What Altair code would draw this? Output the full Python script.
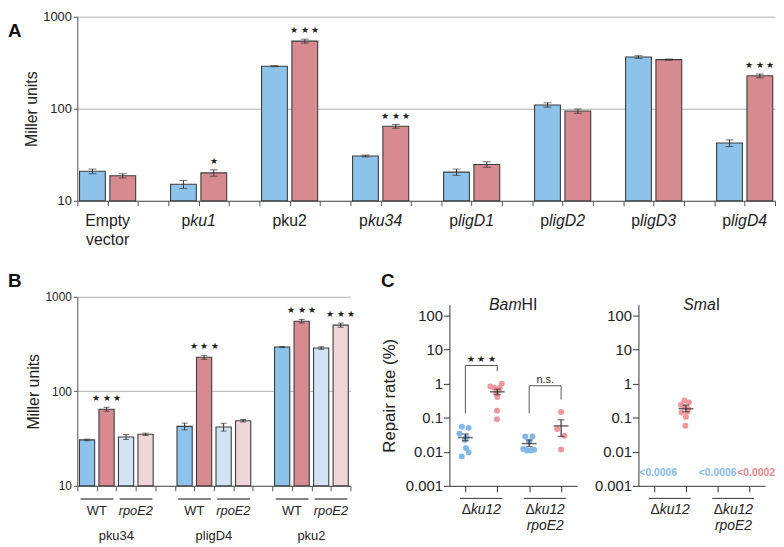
import altair as alt
import pandas as pd

FONT = "Liberation Sans"
INK = "#222222"
AXIS_A = "#555555"
AXIS_C = "#333333"
BLUE, RED, LBLUE, LPINK = "#8DC3EA", "#D88A91", "#D2E4F3", "#EDD5D8"
DOT_BLUE, DOT_RED = "#80B9E8", "#F0969C"
LIM_BLUE, LIM_RED = "#86BCEA", "#E5858C"
EDGE = "#3C3C3C"
ERR = "#333333"
STAR3 = "★ ★ ★"

# ---------------- Panel A data ----------------
a_labels = ["Empty\nvector", "p_ku1_", "pku2", "p_ku34_", "p_ligD1_", "p_ligD2_", "p_ligD3_", "p_ligD4_"]
a_blue = [20.9, 15.1, 290, 30.7, 20.5, 110, 365, 42.4]
a_blue_err = [1.2, 1.5, 4, 0.7, 1.6, 6, 12, 3.5]
a_red = [18.7, 20.1, 543, 64.5, 24.8, 94.4, 342, 228]
a_red_err = [1.0, 1.6, 27, 3, 1.7, 5, 5, 11]
a_no_stars = ["", "", "", "", "", "", "", ""]
a_red_stars = ["", "★", STAR3, STAR3, "", "", "", STAR3]

# ---------------- Panel B data ----------------
b_labels = ["pku34", "pligD4", "pku2"]
b_sub = ["WT", "_rpoE2_"]
b_wt_blue = [30.6, 42.6, 294]
b_wt_blue_err = [0.6, 3.5, 4]
b_wt_red = [64.7, 229, 552]
b_wt_red_err = [3, 11, 25]
b_rpo_blue = [32.9, 41.9, 287]
b_rpo_blue_err = [2, 4, 9]
b_rpo_red = [35.1, 48.8, 501]
b_rpo_red_err = [1, 1.5, 25]
b_no_stars = ["", "", ""]
b_wt_red_stars = [STAR3, STAR3, STAR3]
b_rpo_red_stars = ["", "", STAR3]

# ---------------- Panel C data ----------------
c_pair_labels = ["Δ_ku12_", "Δ_ku12_\n_rpoE2_"]
bam_blue_ku12 = [0.054, 0.050, 0.034, 0.026, 0.022, 0.0126, 0.0095, 0.0073]
bam_blue_ku12_dx = [-3.5, 3.3, -6, 1, -0.5, 0.7, 3.3, -3.7]
bam_red_ku12 = [0.99, 0.82, 0.75, 0.74, 0.62, 0.53, 0.40, 0.16, 0.089]
bam_red_ku12_dx = [4.6, -7, -3, 2.5, 1, -1, 0, -0.3, -0.3]
bam_blue_rpo = [0.028, 0.028, 0.020, 0.012, 0.0108, 0.0108, 0.0115]
bam_blue_rpo_dx = [-4, 3.3, 0, -6, -2.3, 1.7, 5]
bam_red_rpo = [0.146, 0.046, 0.0295, 0.0116]
bam_red_rpo_dx = [0, -4, 3.3, 0]
bam_mean = [0.026, 0.57, 0.0173, 0.057]
bam_sem_lo = [0.021, 0.47, 0.0141, 0.028]
bam_sem_hi = [0.033, 0.68, 0.022, 0.086]
sma_red_ku12 = [0.32, 0.28, 0.24, 0.21, 0.18, 0.15, 0.14, 0.105, 0.058]
sma_red_ku12_dx = [-1.5, 3, -5, -2.5, 2, 1.5, -4.5, 0, -0.5]
sma_mean = [0.182]
sma_sem_lo = [0.148]
sma_sem_hi = [0.23]
sma_limit_pos = [0, 2, 3]
sma_limit_dx = [4, 0, 7]
sma_limit_text = ["<0.0006", "<0.0006", "<0.0002"]
sma_limit_series = ["blue", "blue", "red"]
LIMIT_Y = 0.0023
br_x0 = [0, 2]
br_x1 = [1, 3]
br_top = [3.37, 0.86]
br_left = [0.133, 0.133]
br_right = [2.3, 0.34]
br_text = [STAR3, "n.s."]
br_text_size = [9, 11]
br_text_dy = [-7, -6]

# ---------------- helpers ----------------
WID = {' ': 278, '.': 278, '<': 584, '%': 889, '(': 333, ')': 333,
       'a': 556, 'b': 556, 'c': 500, 'd': 556, 'e': 556, 'g': 556, 'h': 556, 'i': 222,
       'k': 500, 'l': 222, 'm': 833, 'n': 556, 'o': 556, 'p': 556, 'r': 333, 's': 500,
       't': 278, 'u': 556, 'v': 500, 'y': 500, 'B': 667, 'D': 722, 'E': 667, 'H': 722,
       'I': 278, 'S': 667, 'T': 611, 'W': 944, 'Δ': 668}


def tw(s, size):
    return sum(WID.get(c, 556) for c in s) * size / 1000.0


def segments(label, center, size, ppu):
    parts = label.split("_")
    segs = [(p, i % 2 == 1) for i, p in enumerate(parts) if p]
    total = sum(tw(p, size) for p, _ in segs)
    pos = -total / 2
    out = []
    for p, it in segs:
        out.append({"x": center + pos / ppu, "text": p, "italic": it})
        pos += tw(p, size)
    return out


def text_layers(rows, size, X, ypx, color=INK, weight="normal"):
    df = pd.DataFrame(rows)
    layers = []
    for it in (False, True):
        sub = df[df["italic"] == it]
        if len(sub) == 0:
            continue
        layers.append(
            alt.Chart(sub[["x", "text"]]).mark_text(
                align="left", baseline="middle", fontSize=size, font=FONT,
                fontStyle="italic" if it else "normal", fontWeight=weight, color=color
            ).encode(x=X("x"), y=alt.value(ypx), text="text:N")
        )
    return layers


def letter(t, x, y):
    return alt.Chart(pd.DataFrame({"t": [t]})).mark_text(
        align="left", baseline="middle", fontSize=19, fontWeight="bold", font=FONT, color="#111111"
    ).encode(text="t:N", x=alt.value(x), y=alt.value(y))


def bar_frame(n_groups, series, per_group, pad):
    rows = []
    for gi in range(n_groups):
        for si, (name, vals, errs, stars) in enumerate(series):
            s = gi * per_group + si
            rows.append(dict(series=name, x=s + pad, x2=s + 1 - pad, xc=s + 0.5,
                             v=vals[gi], lo=vals[gi] - errs[gi], hi=vals[gi] + errs[gi],
                             star=stars[gi]))
    return pd.DataFrame(rows)


def bar_panel(df, n_slots, ylab_size, cap, colors, title_pad):
    xs = alt.Scale(domain=[0, n_slots], nice=False, zero=False)
    xax = alt.Axis(values=list(range(n_slots + 1)), labels=False, ticks=True, tickSize=5,
                   tickColor=AXIS_A, domainColor=AXIS_A, grid=False, title=None)
    ys = alt.Scale(type="log", domain=[10, 1000], nice=False)
    yax = alt.Axis(values=[10, 100, 1000], format="d", title="Miller units", grid=True,
                   gridColor="#AFAFAF", tickSize=4, tickColor=AXIS_A, domainColor=AXIS_A,
                   labelFontSize=ylab_size, labelPadding=2, titleFontSize=16,
                   titlePadding=title_pad)

    def X(f):
        return alt.X(f"{f}:Q", scale=xs, axis=xax)

    def Y(f):
        return alt.Y(f"{f}:Q", scale=ys, axis=yax)

    base = alt.Chart(df)
    layers = []
    for name, col in colors.items():
        layers.append(base.transform_filter(alt.datum.series == name).mark_bar(
            fill=col, stroke=EDGE, strokeWidth=1.1, opacity=1).encode(
            x=X("x"), x2="x2:Q", y=Y("v"), y2=alt.datum(10)))
    layers.append(base.mark_rule(color=ERR, strokeWidth=1).encode(x=X("xc"), y=Y("lo"), y2="hi:Q"))
    layers.append(base.mark_tick(orient="horizontal", size=cap, thickness=1, color=ERR).encode(x=X("xc"), y=Y("lo")))
    layers.append(base.mark_tick(orient="horizontal", size=cap, thickness=1, color=ERR).encode(x=X("xc"), y=Y("hi")))
    layers.append(base.transform_filter("datum.star != ''").mark_text(
        fontSize=9, baseline="middle", dy=-9, color=INK).encode(x=X("xc"), y=Y("hi"), text="star:N"))
    return layers, X


# ---------------- Panel A ----------------
A_W, A_H = 705, 186
a_slots = 3 * len(a_labels) - 1
a_ppu = A_W / a_slots
a_df = bar_frame(len(a_labels), [("blue", a_blue, a_blue_err, a_no_stars),
                                 ("red", a_red, a_red_err, a_red_stars)], 3, 0.075)
a_layers, XA = bar_panel(a_df, a_slots, 13, 8, {"blue": BLUE, "red": RED}, 3)
rows1, rows2 = [], []
for gi, lab in enumerate(a_labels):
    lines = lab.split("\n")
    rows1 += segments(lines[0], 3 * gi + 1, 16, a_ppu)
    if len(lines) > 1:
        rows2 += segments(lines[1], 3 * gi + 1, 16, a_ppu)
a_layers += text_layers(rows1, 16, XA, A_H + 20)
a_layers += text_layers(rows2, 16, XA, A_H + 40)
a_layers.append(letter("A", -70, 14))
a_chart = alt.layer(*a_layers).properties(width=A_W, height=A_H)

# ---------------- Panel B ----------------
B_W, B_H = 276, 191
b_slots = 5 * len(b_labels) - 1
b_ppu = B_W / b_slots
b_df = bar_frame(len(b_labels), [("wt_blue", b_wt_blue, b_wt_blue_err, b_no_stars),
                                 ("wt_red", b_wt_red, b_wt_red_err, b_wt_red_stars),
                                 ("rpo_blue", b_rpo_blue, b_rpo_blue_err, b_no_stars),
                                 ("rpo_red", b_rpo_red, b_rpo_red_err, b_rpo_red_stars)], 5, 0.11)
b_layers, XB = bar_panel(b_df, b_slots, 12, 6,
                         {"wt_blue": BLUE, "wt_red": RED, "rpo_blue": LBLUE, "rpo_red": LPINK}, 3)
sub_rows, grp_rows, line_rows = [], [], []
for gi, lab in enumerate(b_labels):
    for k, s in enumerate(b_sub):
        start = 5 * gi + 2 * k
        sub_rows += segments(s, start + 1, 13, b_ppu)
        line_rows.append({"x": start + 0.17, "x2": start + 1.85})
    grp_rows += segments(lab, 5 * gi + 2, 13, b_ppu)
b_layers.append(alt.Chart(pd.DataFrame(line_rows)).mark_rule(color="#858585", strokeWidth=2).encode(
    x=XB("x"), x2="x2:Q", y=alt.value(B_H + 13.4)))
b_layers += text_layers(sub_rows, 13, XB, B_H + 25)
b_layers += text_layers(grp_rows, 13, XB, B_H + 51)
b_layers.append(letter("B", -70, -15.7))
b_chart = alt.layer(*b_layers).properties(width=B_W, height=B_H)

# ---------------- Panel C ----------------
C_H = 183
DOTC = {"blue": DOT_BLUE, "red": DOT_RED}
LIMC = {"blue": LIM_BLUE, "red": LIM_RED}


def c_panel(W, pts, stats, title_lbl, ytitle, brackets, limits, let):
    ppu = W / 4.0
    xs = alt.Scale(domain=[-0.5, 3.5], nice=False, zero=False)
    xax = alt.Axis(values=[0, 1, 2, 3], labels=False, ticks=True, tickSize=6, tickColor=AXIS_C,
                   domainColor=AXIS_C, grid=False, title=None)
    ys = alt.Scale(type="log", domain=[0.001, 204], nice=False)
    yopts = dict(values=[0.001, 0.01, 0.1, 1, 10, 100], format="~g", tickSize=6, tickColor=AXIS_C,
                 domainColor=AXIS_C, grid=False, labelFontSize=15, labelPadding=1)
    if ytitle:
        yopts.update(title=ytitle, titleFontSize=17, titlePadding=7)
    else:
        yopts.update(title=None)
    yax = alt.Axis(**yopts)

    def X(f):
        return alt.X(f"{f}:Q", scale=xs, axis=xax)

    def Y(f):
        return alt.Y(f"{f}:Q", scale=ys, axis=yax)

    layers = []
    for pos, series, vals, dxs in pts:
        pdf = pd.DataFrame({"x": [pos + d / ppu for d in dxs], "v": vals})
        layers.append(alt.Chart(pdf).mark_circle(size=36, opacity=1, color=DOTC[series]).encode(
            x=X("x"), y=Y("v")))
    sdf = pd.DataFrame(stats, columns=["x", "m", "lo", "hi"])
    sb = alt.Chart(sdf)
    layers.append(sb.mark_rule(color=ERR, strokeWidth=1.2).encode(x=X("x"), y=Y("lo"), y2="hi:Q"))
    layers.append(sb.mark_tick(orient="horizontal", size=7, thickness=1.2, color=ERR).encode(x=X("x"), y=Y("lo")))
    layers.append(sb.mark_tick(orient="horizontal", size=7, thickness=1.2, color=ERR).encode(x=X("x"), y=Y("hi")))
    layers.append(sb.mark_tick(orient="horizontal", size=15, thickness=1.6, color=ERR).encode(x=X("x"), y=Y("m")))
    if brackets:
        seg = []
        for x0, x1, top, lft, rgt, txt, sz, dy in brackets:
            seg += [dict(x=x0, x2=x0, y=lft, y2=top), dict(x=x0, x2=x1, y=top, y2=top),
                    dict(x=x1, x2=x1, y=rgt, y2=top)]
            layers.append(alt.Chart(pd.DataFrame([{"x": (x0 + x1) / 2, "y": top, "t": txt}])).mark_text(
                fontSize=sz, baseline="middle", dy=dy, color=INK, font=FONT).encode(
                x=X("x"), y=Y("y"), text="t:N"))
        layers.append(alt.Chart(pd.DataFrame(seg)).mark_rule(color="#555555", strokeWidth=1).encode(
            x=X("x"), x2="x2:Q", y=Y("y"), y2="y2:Q"))
    if limits:
        for pos, dxp, txt, series in limits:
            ldf = pd.DataFrame({"x": [pos + dxp / ppu], "y": [LIMIT_Y], "t": [txt]})
            layers.append(alt.Chart(ldf).mark_text(
                fontSize=10.5, fontWeight="bold", baseline="middle", font=FONT, color=LIMC[series]).encode(
                x=X("x"), y=Y("y"), text="t:N"))
    # x labels
    r1, r2, lines = [], [], []
    for k, lab in enumerate(c_pair_labels):
        parts = lab.split("\n")
        c = 2 * k + 0.5
        r1 += segments(parts[0], c, 14, ppu)
        if len(parts) > 1:
            r2 += segments(parts[1], c, 14, ppu)
        lines.append({"x": 2 * k - 0.17, "x2": 2 * k + 1.15})
    layers.append(alt.Chart(pd.DataFrame(lines)).mark_rule(color="#333333", strokeWidth=1).encode(
        x=X("x"), x2="x2:Q", y=alt.value(C_H + 12.7)))
    layers += text_layers(r1, 14, X, C_H + 24.3)
    layers += text_layers(r2, 14, X, C_H + 40.3)
    layers += text_layers(segments(title_lbl, 1.5, 16, ppu), 16, X, 0)
    if let:
        layers.append(letter(let, -69, -24))
    return alt.layer(*layers).properties(width=W, height=C_H)


bam_pts = [(0, "blue", bam_blue_ku12, bam_blue_ku12_dx), (1, "red", bam_red_ku12, bam_red_ku12_dx),
           (2, "blue", bam_blue_rpo, bam_blue_rpo_dx), (3, "red", bam_red_rpo, bam_red_rpo_dx)]
bam_stats = [[i, m, lo, hi] for i, (m, lo, hi) in enumerate(zip(bam_mean, bam_sem_lo, bam_sem_hi))]
bam_br = list(zip(br_x0, br_x1, br_top, br_left, br_right, br_text, br_text_size, br_text_dy))
bam = c_panel(129, bam_pts, bam_stats, "_Bam_HI", "Repair rate (%)", bam_br, None, "C")

sma_pts = [(1, "red", sma_red_ku12, sma_red_ku12_dx)]
sma_stats = [[1, m, lo, hi] for m, lo, hi in zip(sma_mean, sma_sem_lo, sma_sem_hi)]
sma_lim = list(zip(sma_limit_pos, sma_limit_dx, sma_limit_text, sma_limit_series))
sma = c_panel(128, sma_pts, sma_stats, "_Sma_I", None, None, sma_lim, None)

spacer = alt.Chart(pd.DataFrame({"v": [0]})).mark_point(opacity=0).encode(
    x=alt.X("v:Q", axis=None), y=alt.Y("v:Q", axis=None)).properties(width=1, height=1)

c_row = alt.hconcat(bam, sma, spacing=62, bounds="flush")
c_col = alt.vconcat(spacer, c_row, spacing=7, bounds="flush")
bottom = alt.hconcat(b_chart, c_col, spacing=100, bounds="flush")

chart = alt.vconcat(a_chart, bottom, spacing=97, bounds="flush").properties(
    padding={"left": 0, "top": 0, "right": 0, "bottom": 0}
).configure_view(stroke=None).configure_axis(
    labelFont=FONT, titleFont=FONT, labelColor=INK, titleColor=INK, titleFontWeight="normal"
).configure_text(font=FONT)

chart.save("out.html", embed_options={"renderer": "svg", "actions": False})
